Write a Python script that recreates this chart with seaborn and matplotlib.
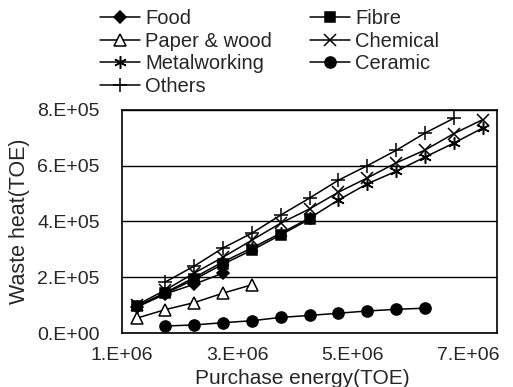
import numpy as np
import pandas as pd
import matplotlib
matplotlib.use("Agg")
import matplotlib.pyplot as plt
import seaborn as sns

# purchase energy (TOE) steps
x_food = [1.25e6, 1.75e6, 2.25e6, 2.75e6]
y_food = [0.92e5, 1.40e5, 1.75e5, 2.15e5]

x_fibre = [1.25e6, 1.75e6, 2.25e6, 2.75e6, 3.25e6, 3.75e6, 4.25e6]
y_fibre = [0.96e5, 1.42e5, 1.92e5, 2.47e5, 2.97e5, 3.52e5, 4.08e5]

x_paper = [1.25e6, 1.75e6, 2.25e6, 2.75e6, 3.25e6]
y_paper = [0.53e5, 0.84e5, 1.09e5, 1.43e5, 1.73e5]

x_chem = [1.25e6, 1.75e6, 2.25e6, 2.75e6, 3.25e6, 3.75e6, 4.25e6,
          4.75e6, 5.25e6, 5.75e6, 6.25e6, 6.75e6, 7.25e6]
y_chem = [1.00e5, 1.54e5, 2.15e5, 2.72e5, 3.33e5, 3.94e5, 4.45e5,
          5.05e5, 5.56e5, 6.10e5, 6.56e5, 7.15e5, 7.65e5]

x_metal = [1.25e6, 1.75e6, 2.25e6, 2.75e6, 3.25e6, 3.75e6, 4.25e6,
           4.75e6, 5.25e6, 5.75e6, 6.25e6, 6.75e6, 7.25e6]
y_metal = [0.94e5, 1.45e5, 1.99e5, 2.55e5, 3.05e5, 3.58e5, 4.12e5,
           4.77e5, 5.35e5, 5.80e5, 6.31e5, 6.81e5, 7.35e5]

x_ceramic = [1.75e6, 2.25e6, 2.75e6, 3.25e6, 3.75e6, 4.25e6,
             4.75e6, 5.25e6, 5.75e6, 6.25e6]
y_ceramic = [0.25e5, 0.29e5, 0.37e5, 0.44e5, 0.56e5, 0.63e5,
             0.71e5, 0.79e5, 0.85e5, 0.89e5]

x_others = [1.75e6, 2.25e6, 2.75e6, 3.25e6, 3.75e6, 4.25e6,
            4.75e6, 5.25e6, 5.75e6, 6.25e6, 6.75e6]
y_others = [1.83e5, 2.40e5, 3.05e5, 3.58e5, 4.23e5, 4.84e5,
            5.48e5, 6.00e5, 6.55e5, 7.17e5, 7.70e5]

xtick_vals = [1e6, 3e6, 5e6, 7e6]
xtick_labels = ["1.E+06", "3.E+06", "5.E+06", "7.E+06"]
ytick_vals = [0, 2e5, 4e5, 6e5, 8e5]
ytick_labels = ["0.E+00", "2.E+05", "4.E+05", "6.E+05", "8.E+05"]

sns.set_style("white")
plt.rcParams['font.family'] = ['Liberation Sans', 'DejaVu Sans']

fig = plt.figure(figsize=(5.13, 3.87), dpi=100)
ax = fig.add_axes([0.238, 0.1395, 0.731, 0.5765])

series = [
    ("Food", x_food, y_food, "D", "black", 6.5),
    ("Paper & wood", x_paper, y_paper, "^", "white", 8),
    ("Metalworking", x_metal, y_metal, (6, 2, 0), "black", 9),
    ("Others", x_others, y_others, "+", "black", 10),
    ("Fibre", x_fibre, y_fibre, "s", "black", 6.5),
    ("Chemical", x_chem, y_chem, "x", "black", 8),
    ("Ceramic", x_ceramic, y_ceramic, "o", "black", 8),
]

for name, xs, ys, mk, fc, ms in series:
    sns.lineplot(x=xs, y=ys, ax=ax, color="black", lw=1.1, marker=mk,
                 markersize=ms, markerfacecolor=fc, markeredgecolor="black",
                 markeredgewidth=1.1, label=name)

ax.set_xlim(1e6, 7.5e6)
ax.set_ylim(0, 8e5)
ax.set_xticks(np.arange(1e6, 7.51e6, 0.5e6), minor=True)
ax.set_xticks(xtick_vals)
ax.set_xticklabels(xtick_labels, fontsize=14)
ax.set_yticks(ytick_vals)
ax.set_yticklabels(ytick_labels, fontsize=14)
ax.tick_params(axis="x", which="both", direction="in", length=4, color="black", pad=10)
ax.tick_params(axis="y", length=0, pad=16)
ax.grid(axis="y", color="black", lw=1)
for s in ax.spines.values():
    s.set_color("black")
    s.set_linewidth(1.2)

ax.set_xlabel("Purchase energy(TOE)", fontsize=15)
ax.set_ylabel("Waste heat(TOE)", fontsize=15.5)
ax.xaxis.set_label_coords(0.48, -0.16)
ax.yaxis.set_label_coords(-0.245, 0.5)

ax.legend(ncol=2, loc="lower left", bbox_to_anchor=(-0.06, 1.062), frameon=False,
          fontsize=14.5, handlelength=2.0, handletextpad=0.25, columnspacing=1.9,
          labelspacing=0.18, borderaxespad=0.0, borderpad=0.0)

fig.savefig("out.png", dpi=100)
